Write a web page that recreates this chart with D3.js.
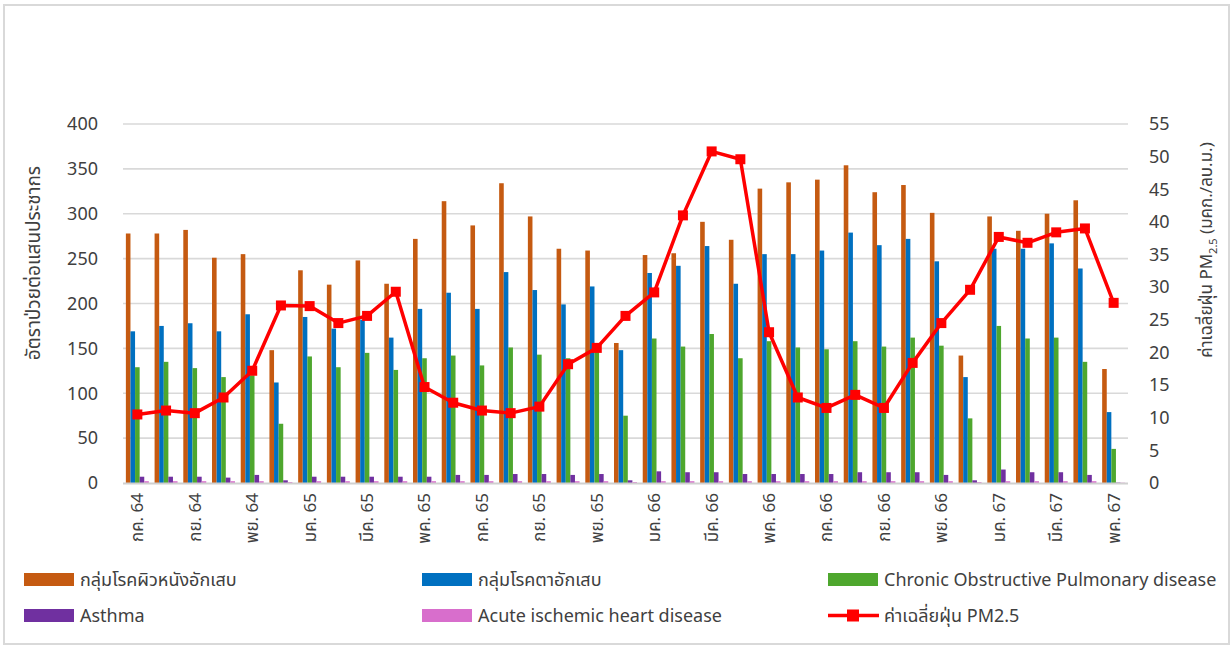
<!DOCTYPE html>
<html>
<head>
<meta charset="utf-8">
<script src="https://cdn.jsdelivr.net/npm/d3@7"></script>
<style>
  body { margin:0; background:#fff; }
  text { font-family: Tahoma, "Noto Sans Thai", "Leelawadee UI", "Noto Sans", sans-serif; fill:#404040; }
</style>
</head>
<body>
<svg></svg>
<script>
var months = ["กค. 64","สค. 64","กย. 64","ตค. 64","พย. 64","ธค. 64","มค. 65","กพ. 65","มีค. 65","เมย. 65",
  "พค. 65","มิย. 65","กค. 65","สค. 65","กย. 65","ตค. 65","พย. 65","ธค. 65","มค. 66","กพ. 66",
  "มีค. 66","เมย. 66","พค. 66","มิย. 66","กค. 66","สค. 66","กย. 66","ตค. 66","พย. 66","ธค. 66",
  "มค. 67","กพ. 67","มีค. 67","เมย. 67","พค. 67"];

var skin = [278,278,282,251,255,148,237,221,248,222,272,314,287,334,297,261,259,156,254,256,
  291,271,328,335,338,354,324,332,301,142,297,281,300,315,127];
var eye = [169,175,178,169,188,112,185,172,182,162,194,212,194,235,215,199,219,148,234,242,
  264,222,255,255,259,279,265,272,247,118,261,261,267,239,79];
var copd = [129,135,128,118,120,66,141,129,145,126,139,142,131,151,143,139,148,75,161,152,
  166,139,158,151,149,158,152,162,153,72,175,161,162,135,38];
var asthma = [7,7,7,6,9,3,7,7,7,7,7,9,9,10,10,9,10,3,13,12,
  12,10,10,10,10,12,12,12,9,3,15,12,12,9,0.5];
var heart = [2,2,2,2,2,1,2,2,2,2,2,2,2,2,2,2,2,1,2,2,
  2,2,2,2,2,2,2,2,2,1,2,2,2,2,0.3];
var pm25 = [10.5,11.1,10.7,13.1,17.2,27.2,27.1,24.5,25.6,29.3,14.7,12.3,11.1,10.7,11.7,18.2,20.7,25.6,29.2,41.0,
  50.8,49.6,23.1,13.1,11.5,13.5,11.5,18.4,24.5,29.6,37.7,36.8,38.4,39.0,27.6];

var seriesNames = ["กลุ่มโรคผิวหนังอักเสบ","กลุ่มโรคตาอักเสบ","Chronic Obstructive Pulmonary disease","Asthma","Acute ischemic heart disease"];
var lineName = "ค่าเฉลี่ยฝุ่น PM2.5";
var leftTicks = [0,50,100,150,200,250,300,350,400];
var rightTicks = [0,5,10,15,20,25,30,35,40,45,50,55];

var barColors = ["#C55A11","#0070C0","#4EA72E","#7030A0","#D86ECC"];
var lineColor = "#FF0000";

var screen = {width:1231, height:647};
var svg = d3.select("svg")
            .attr("width",screen.width)
            .attr("height",screen.height);

// frame
svg.append("rect")
   .attr("x",4).attr("y",5)
   .attr("width",1225).attr("height",639)
   .attr("fill","#fff")
   .attr("stroke","#D9D9D9")
   .attr("stroke-width",2);

var plot = {left:123, right:1128, top:124, bottom:483};

var xScale = d3.scaleBand()
          .domain(months)
          .range([plot.left,plot.right])
          .paddingInner(0.2)
          .paddingOuter(0.1);
var xSub = d3.scaleBand()
          .domain(d3.range(5))
          .range([0,xScale.bandwidth()]);
var yScale = d3.scaleLinear()
          .domain([0,400])
          .range([plot.bottom,plot.top]);
var yRight = d3.scaleLinear()
          .domain([0,55])
          .range([plot.bottom,plot.top]);

// grid
svg.append("g").classed("grid",true)
   .selectAll("line")
   .data(leftTicks.slice(1))
   .enter()
   .append("line")
   .attr("x1",plot.left).attr("x2",plot.right)
   .attr("y1",function(d){return yScale(d)})
   .attr("y2",function(d){return yScale(d)})
   .attr("stroke","#D9D9D9")
   .attr("stroke-width",1.6);

// bars
var allSeries = [skin,eye,copd,asthma,heart];
var groups = svg.append("g").classed("bars",true)
   .selectAll("g")
   .data(months)
   .enter()
   .append("g")
   .attr("transform",function(d){return "translate("+xScale(d)+",0)"});

groups.selectAll("rect")
   .data(function(d,i){return allSeries.map(function(s,k){return {k:k,v:s[i]}})})
   .enter()
   .append("rect")
   .attr("x",function(d){return xSub(d.k)})
   .attr("width",xSub.bandwidth())
   .attr("y",function(d){return yScale(d.v)})
   .attr("height",function(d){return yScale(0)-yScale(d.v)})
   .attr("fill",function(d){return barColors[d.k]});

// baseline
svg.append("line")
   .attr("x1",plot.left).attr("x2",plot.right)
   .attr("y1",yScale(0)+0.5).attr("y2",yScale(0)+0.5)
   .attr("stroke","#D0D0D0")
   .attr("stroke-width",2);

// PM2.5 line
var pmCenter = function(i){return xScale(months[i])+xScale.bandwidth()/2};
var drawLine = d3.line()
            .x(function(d,i){return pmCenter(i)})
            .y(function(d){return yRight(d)});

svg.append("path")
   .datum(pm25)
   .attr("d",drawLine)
   .attr("fill","none")
   .attr("stroke",lineColor)
   .attr("stroke-width",3.5)
   .attr("stroke-linejoin","round");

svg.append("g").selectAll("rect")
   .data(pm25)
   .enter()
   .append("rect")
   .attr("x",function(d,i){return pmCenter(i)-5})
   .attr("y",function(d){return yRight(d)-5})
   .attr("width",10).attr("height",10)
   .attr("fill",lineColor);

// axes
var leftAxis = d3.axisLeft(yScale).tickValues(leftTicks).tickSize(0).tickPadding(0);
svg.append("g").classed("yAxis",true)
   .attr("transform","translate(98,0)")
   .call(leftAxis)
   .call(function(g){g.select(".domain").remove()})
   .selectAll("text")
   .attr("font-size",18)
   .attr("font-family",null);

var rightAxis = d3.axisRight(yRight).tickValues(rightTicks).tickSize(0).tickPadding(0);
svg.append("g").classed("yRight",true)
   .attr("transform","translate(1149,0)")
   .call(rightAxis)
   .call(function(g){g.select(".domain").remove()})
   .selectAll("text")
   .attr("font-size",18)
   .attr("font-family",null);

var xTicks = months.filter(function(d,i){return i%2==0});
var xAxis = d3.axisBottom(xScale).tickValues(xTicks).tickSize(0).tickPadding(0);
svg.append("g").classed("xAxis",true)
   .attr("transform","translate(0,"+(plot.bottom+10)+")")
   .call(xAxis)
   .call(function(g){g.select(".domain").remove()})
   .selectAll("text")
   .attr("font-size",17)
   .attr("font-family",null)
   .attr("transform","rotate(-90)")
   .attr("x",0)
   .attr("y",0)
   .attr("dx",0)
   .attr("dy","0.35em")
   .attr("text-anchor","end");

svg.selectAll(".tick text").attr("fill","#404040");

// axis titles
svg.append("text")
   .attr("transform","translate(40,263) rotate(-90)")
   .attr("text-anchor","middle")
   .attr("font-size",19)
   .text("อัตราป่วยต่อแสนประชากร");

var rt = svg.append("text")
   .attr("transform","translate(1212,250) rotate(-90)")
   .attr("text-anchor","middle")
   .attr("font-size",17);
rt.append("tspan").text("ค่าเฉลี่ยฝุ่น PM");
rt.append("tspan").attr("font-size",11).attr("dy",5).text("2.5");
rt.append("tspan").attr("dy",-5).text(" (มคก./ลบ.ม.)");

// legend
var legendItems = [
  {name:seriesNames[0], color:barColors[0], x:24, y:573, type:"bar"},
  {name:seriesNames[1], color:barColors[1], x:422, y:573, type:"bar"},
  {name:seriesNames[2], color:barColors[2], x:828, y:573, type:"bar"},
  {name:seriesNames[3], color:barColors[3], x:24, y:609, type:"bar"},
  {name:seriesNames[4], color:barColors[4], x:422, y:609, type:"bar"},
  {name:lineName, color:lineColor, x:828, y:609, type:"line"}
];

var legend = svg.append("g").classed("legend",true)
   .selectAll("g")
   .data(legendItems)
   .enter()
   .append("g")
   .attr("transform",function(d){return "translate("+d.x+","+d.y+")"});

legend.filter(function(d){return d.type=="bar"})
   .append("rect")
   .attr("width",50).attr("height",13)
   .attr("fill",function(d){return d.color});

legend.filter(function(d){return d.type=="line"})
   .append("line")
   .attr("x1",0).attr("x2",51).attr("y1",6.5).attr("y2",6.5)
   .attr("stroke",lineColor).attr("stroke-width",3.5);
legend.filter(function(d){return d.type=="line"})
   .append("rect")
   .attr("x",19).attr("y",0.5).attr("width",12).attr("height",12)
   .attr("fill",lineColor);

legend.append("text")
   .attr("x",56)
   .attr("y",7)
   .attr("dy","0.35em")
   .attr("font-size",18)
   .text(function(d){return d.name});
</script>
</body>
</html>
